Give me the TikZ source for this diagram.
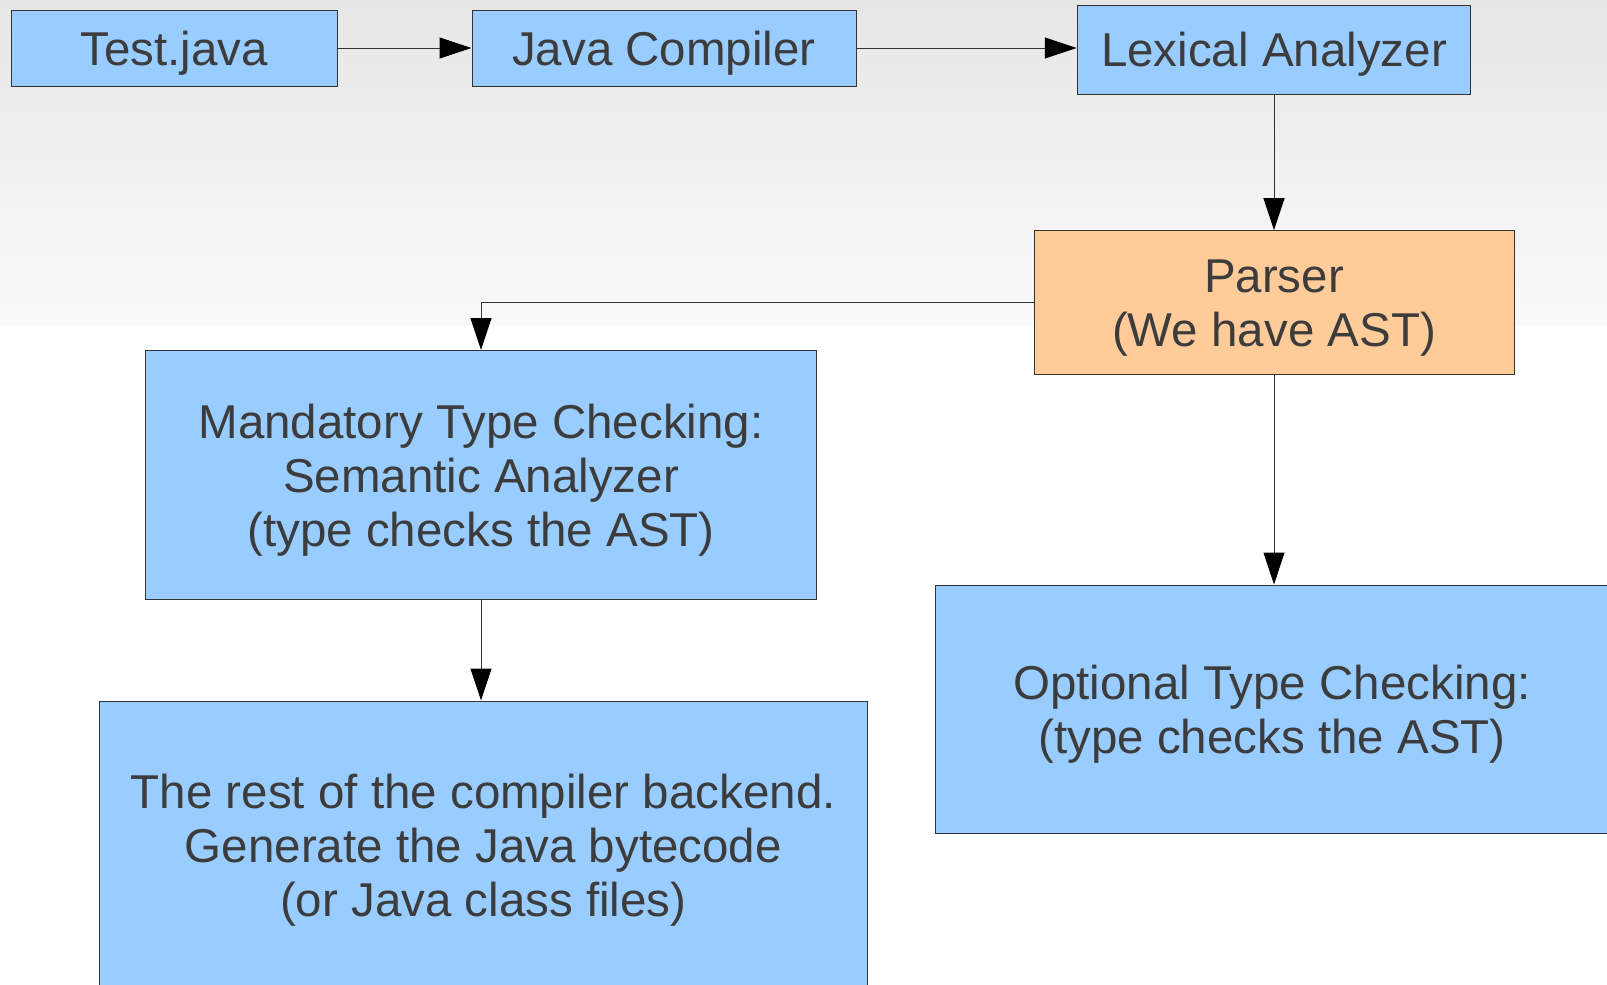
\documentclass[tikz,border=0pt]{standalone}
\usepackage{fontspec}
\setmainfont{Liberation Sans}
\usetikzlibrary{arrows.meta,positioning}

\definecolor{boxblue}{HTML}{99CCFF}
\definecolor{boxorange}{HTML}{FFCC99}
\definecolor{boxtext}{HTML}{3C3C3C}
\definecolor{slidetop}{HTML}{E6E6E6}

% #1 = number of extra text lines, keeps the text a little low in the box
\tikzset{
	stage/.style={draw=black!80, line width=0.5pt, fill=boxblue, text=boxtext, align=center,
		inner sep=0pt, font=\fontsize{23.75}{27}\selectfont,
		execute at begin node={\rule{0pt}{\dimexpr 22pt+#1\baselineskip\relax}}},
	stage/.default=0,
	flow/.style={draw=black!80, line width=0.5pt, -{Triangle[length=16pt,width=10.5pt,black]}},
}

\begin{document}
\begin{tikzpicture}[x=0.5pt,y=-0.5pt]
			\clip (0,0) rectangle (1607,985);

			% slide background
			\shade[top color=slidetop, bottom color=black!2] (0,0) rectangle (1607,326);
			\fill[white] (0,326) rectangle (1607,985);

			\node[stage, minimum width=163pt, minimum height=38pt] (test) at (174,48) {Test.java};
			\node[stage, minimum width=192pt, minimum height=38pt] (javac) at (664,48) {Java Compiler};
			\node[stage, minimum width=196.75pt, minimum height=44.6pt] (lexer) at (1274,49.7) {Lexical Analyzer};
			\node[stage=1, fill=boxorange, minimum width=240pt, minimum height=71.75pt] (parser) at (1274,302.4) {Parser\\(We have AST)};
			\node[stage=2, minimum width=335.65pt, minimum height=124.5pt] (mandatory) at (481,475) {Mandatory Type Checking:\\Semantic Analyzer\\(type checks the AST)};
			\node[stage=1, minimum width=336.3pt, minimum height=124pt] (optional) at (1272,709) {Optional Type Checking:\\(type checks the AST)};
			\node[stage=2, minimum width=383.85pt, minimum height=144.5pt] (rest) at (483.3,845.5) {The rest of the compiler backend.\\Generate the Java bytecode\\(or Java class files)};

			\draw[flow] (test) -- (javac);
			\draw[flow] (javac.east) -- (javac.east -| lexer.west);
			\draw[flow] (lexer) -- (parser);
			\draw[flow] (parser.west) -| (mandatory.north);
			\draw[flow] (parser.south) -- (parser.south |- optional.north);
			\draw[flow] (mandatory.south) -- (mandatory.south |- rest.north);
		\end{tikzpicture}
\end{document}
